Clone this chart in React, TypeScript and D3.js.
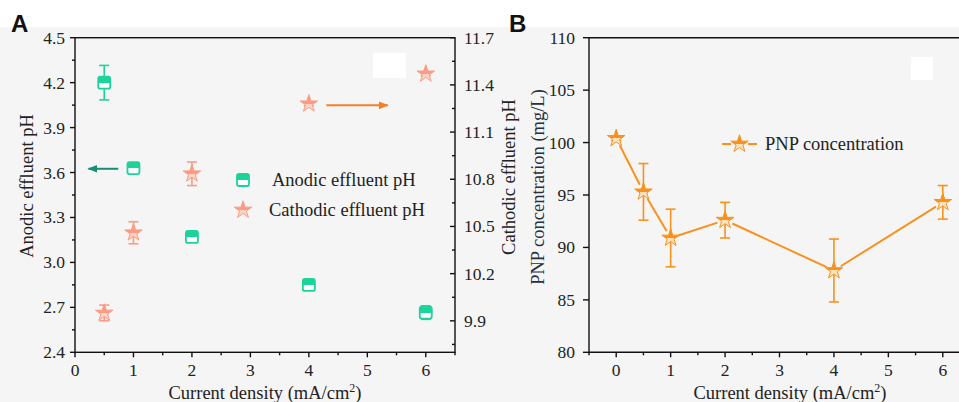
import React from "react";
import * as d3 from "d3";

// ---------- Data ----------
const densityA = [0.5, 1, 2, 4, 6];
const anodicPH = [4.2, 3.63, 3.17, 2.85, 2.665];
const anodicErr = [0.115, 0.03, 0.025, 0.02, 0.045];
const cathodicPH = [9.95, 10.46, 10.835, 11.28, 11.47];
const cathodicErr = [0.05, 0.07, 0.075, 0.012, 0.012];

const densityB = [0, 0.5, 1, 2, 4, 6];
const pnpConc = [100.4, 95.3, 90.9, 92.6, 87.8, 94.3];
const pnpErr = [0.2, 2.7, 2.75, 1.7, 3.0, 1.6];

const xTicks = [0, 1, 2, 3, 4, 5, 6];
const leftTicks = [2.4, 2.7, 3.0, 3.3, 3.6, 3.9, 4.2, 4.5];
const rightTicks = [9.9, 10.2, 10.5, 10.8, 11.1, 11.4, 11.7];
const pnpTicks = [80, 85, 90, 95, 100, 105, 110];

const GREEN = "#1CD39B";
const GREEN_DARK = "#178D73";
const SALMON = "#FA9C84";
const ORANGE = "#F8921E";
const ORANGE_ARROW = "#F47F26";
const FONT = "'Liberation Serif', 'Times New Roman', serif";

const W = 959;
const H = 402;
const TOP = 37.7;
const BOT = 352.3;

export default function App() {
  // Panel A scales
  const xA = d3.scaleLinear().domain([0, 6.5]).range([75, 455]);
  const yL = d3.scaleLinear().domain([2.4, 4.5]).range([BOT, TOP]);
  const yR = d3.scaleLinear().domain([9.7, 11.7]).range([BOT, TOP]);
  // Panel B scales
  const xB = d3.scaleLinear().domain([-0.5, 6.5]).range([589, 970]);
  const yB = d3.scaleLinear().domain([80, 110]).range([BOT, TOP]);

  const star = d3.symbol().type(d3.symbolStar).size(95)()!;
  const starSmall = d3.symbol().type(d3.symbolStar).size(95)()!;

  const minorX = d3.range(0.5, 6.6, 1);
  const minorL = leftTicks.slice(0, -1).map((t) => t + 0.15);
  const minorR = [9.75, ...rightTicks.slice(0, -1).map((t) => t + 0.15)];
  const minorXB = [-0.5, ...d3.range(0.5, 6.6, 1)];

  const ax = { stroke: "#111", strokeWidth: 1.4, fill: "none" } as const;
  const tickText = { fontFamily: FONT, fontSize: 17.5, fill: "#222" } as const;
  const labelText = { fontFamily: FONT, fontSize: 18.5, fill: "#222" } as const;

  const errBar = (x: number, y1: number, y2: number, color: string, key: string, w = 5) => (
    <g key={key} stroke={color} strokeWidth={1.6} fill="none">
      <line x1={x} x2={x} y1={y1} y2={y2} />
      <line x1={x - w} x2={x + w} y1={y1} y2={y1} />
      <line x1={x - w} x2={x + w} y1={y2} y2={y2} />
    </g>
  );

  const square = (x: number, y: number, key: string) => (
    <g key={key}>
      <rect x={x - 6} y={y - 6} width={12} height={12} rx={2} fill="url(#gGreen)" stroke={GREEN} strokeWidth={1.8} />
    </g>
  );

  // PNP line segments with gaps at markers
  const pnpPts = densityB.map((d, i) => [xB(d), yB(pnpConc[i])] as [number, number]);
  const gap = 8;
  const segs = pnpPts.slice(0, -1).map((p, i) => {
    const q = pnpPts[i + 1];
    const dx = q[0] - p[0];
    const dy = q[1] - p[1];
    const L = Math.hypot(dx, dy);
    const ux = dx / L;
    const uy = dy / L;
    return [p[0] + ux * gap, p[1] + uy * gap, q[0] - ux * gap, q[1] - uy * gap];
  });

  return (
    <svg width={W} height={H} style={{ position: "absolute", left: 0, top: 0, background: "#fff" }}>
      <defs>
        <linearGradient id="gGreen" x1="0" y1="0" x2="0" y2="1">
          <stop offset="0.5" stopColor={GREEN} />
          <stop offset="0.5" stopColor="#fff" />
        </linearGradient>
        <linearGradient id="gSalmon" x1="0" y1="0" x2="0" y2="1">
          <stop offset="0.55" stopColor={SALMON} />
          <stop offset="0.55" stopColor="#FCD3C6" />
        </linearGradient>
        <linearGradient id="gOrange" x1="0" y1="0" x2="0" y2="1">
          <stop offset="0.55" stopColor={ORANGE} />
          <stop offset="0.55" stopColor="#FDE2BF" />
        </linearGradient>
        <marker id="arrG" viewBox="0 0 10 10" refX="9" refY="5" markerWidth="5" markerHeight="5" orient="auto">
          <path d="M0,1 L10,5 L0,9 Z" fill={GREEN_DARK} />
        </marker>
        <marker id="arrO" viewBox="0 0 10 10" refX="9" refY="5" markerWidth="5" markerHeight="5" orient="auto">
          <path d="M0,1 L10,5 L0,9 Z" fill={ORANGE_ARROW} />
        </marker>
      </defs>

      {/* background */}
      <rect x={0} y={27} width={W} height={H - 27} fill="#f5f5f5" />
      <rect x={373} y={53} width={33} height={25} fill="#fff" />
      <rect x={911} y={57} width={22} height={23} fill="#fff" />

      {/* Panel letters */}
      <text x={11} y={32} fontFamily="'Liberation Sans', Arial, sans-serif" fontWeight="bold" fontSize={24} fill="#111">A</text>
      <text x={509} y={32} fontFamily="'Liberation Sans', Arial, sans-serif" fontWeight="bold" fontSize={24} fill="#111">B</text>

      {/* ===== Panel A ===== */}
      <rect x={75} y={TOP} width={380} height={BOT - TOP} {...ax} />
      {xTicks.map((t) => (
        <g key={"xa" + t}>
          <line x1={xA(t)} x2={xA(t)} y1={BOT} y2={BOT + 5} {...ax} />
          <text x={xA(t)} y={BOT + 24} textAnchor="middle" {...tickText}>{t}</text>
        </g>
      ))}
      {minorX.map((t) => (
        <line key={"xam" + t} x1={xA(t)} x2={xA(t)} y1={BOT} y2={BOT + 3} {...ax} />
      ))}
      {leftTicks.map((t) => (
        <g key={"yl" + t}>
          <line x1={70} x2={75} y1={yL(t)} y2={yL(t)} {...ax} />
          <text x={65} y={yL(t) + 6} textAnchor="end" {...tickText}>{t.toFixed(1)}</text>
        </g>
      ))}
      {minorL.map((t) => (
        <line key={"ylm" + t} x1={72} x2={75} y1={yL(t)} y2={yL(t)} {...ax} />
      ))}
      {rightTicks.map((t) => (
        <g key={"yr" + t}>
          <line x1={450} x2={455} y1={yR(t)} y2={yR(t)} {...ax} />
          <text x={464} y={yR(t) + 6} textAnchor="start" {...tickText}>{t.toFixed(1)}</text>
        </g>
      ))}
      {minorR.map((t) => (
        <line key={"yrm" + t} x1={452} x2={455} y1={yR(t)} y2={yR(t)} {...ax} />
      ))}
      <text transform={`translate(33,${186}) rotate(-90)`} textAnchor="middle" {...labelText}>Anodic effluent pH</text>
      <text transform={`translate(515,${177}) rotate(-90)`} textAnchor="middle" {...labelText}>Cathodic effluent pH</text>
      <text x={265} y={399} textAnchor="middle" {...labelText}>
        Current density (mA/cm<tspan dy={-7} fontSize={12}>2</tspan><tspan dy={7}>)</tspan>
      </text>

      {/* cathodic */}
      {densityA.map((d, i) =>
        errBar(xA(d), yR(cathodicPH[i] + cathodicErr[i]), yR(cathodicPH[i] - cathodicErr[i]), SALMON, "ce" + i)
      )}
      {densityA.map((d, i) => (
        <path key={"cs" + i} d={star} transform={`translate(${xA(d)},${yR(cathodicPH[i])})`} fill="url(#gSalmon)" stroke={SALMON} strokeWidth={1} />
      ))}
      {/* anodic */}
      {densityA.map((d, i) =>
        errBar(xA(d), yL(anodicPH[i] + anodicErr[i]), yL(anodicPH[i] - anodicErr[i]), GREEN, "ae" + i)
      )}
      {densityA.map((d, i) => square(xA(d), yL(anodicPH[i]), "as" + i))}

      {/* arrows */}
      <line x1={xA(0.74)} x2={xA(0.23)} y1={yL(3.625)} y2={yL(3.625)} stroke={GREEN_DARK} strokeWidth={2} markerEnd="url(#arrG)" />
      <line x1={xA(4.3)} x2={xA(5.35)} y1={yR(11.27)} y2={yR(11.27)} stroke={ORANGE_ARROW} strokeWidth={2} markerEnd="url(#arrO)" />

      {/* legend A */}
      {square(243, 180, "lg1")}
      <text x={272} y={186} {...labelText}>Anodic effluent pH</text>
      <path d={starSmall} transform="translate(243,210)" fill="url(#gSalmon)" stroke={SALMON} strokeWidth={1} />
      <text x={269} y={216} {...labelText}>Cathodic effluent pH</text>

      {/* ===== Panel B ===== */}
      <line x1={589} x2={W} y1={TOP} y2={TOP} {...ax} />
      <line x1={589} x2={W} y1={BOT} y2={BOT} {...ax} />
      <line x1={589} x2={589} y1={TOP} y2={BOT} {...ax} />
      {xTicks.map((t) => (
        <g key={"xb" + t}>
          <line x1={xB(t)} x2={xB(t)} y1={BOT} y2={BOT + 5} {...ax} />
          <text x={xB(t)} y={BOT + 24} textAnchor="middle" {...tickText}>{t}</text>
        </g>
      ))}
      {minorXB.map((t) => (
        <line key={"xbm" + t} x1={xB(t)} x2={xB(t)} y1={BOT} y2={BOT + 3} {...ax} />
      ))}
      {pnpTicks.map((t) => (
        <g key={"yb" + t}>
          <line x1={583} x2={589} y1={yB(t)} y2={yB(t)} {...ax} />
          <text x={575} y={yB(t) + 6} textAnchor="end" {...tickText}>{t}</text>
        </g>
      ))}
      <text transform={`translate(544,${187}) rotate(-90)`} textAnchor="middle" {...labelText} fill="#263040">PNP concentration (mg/L)</text>
      <text x={790} y={399} textAnchor="middle" {...labelText}>
        Current density (mA/cm<tspan dy={-7} fontSize={12}>2</tspan><tspan dy={7}>)</tspan>
      </text>

      {segs.map((s, i) => (
        <line key={"seg" + i} x1={s[0]} y1={s[1]} x2={s[2]} y2={s[3]} stroke={ORANGE} strokeWidth={2} />
      ))}
      {densityB.map((d, i) =>
        errBar(xB(d), yB(pnpConc[i] + pnpErr[i]), yB(pnpConc[i] - pnpErr[i]), ORANGE, "pe" + i)
      )}
      {densityB.map((d, i) => (
        <path key={"ps" + i} d={star} transform={`translate(${xB(d)},${yB(pnpConc[i])})`} fill="url(#gOrange)" stroke={ORANGE} strokeWidth={1} />
      ))}

      {/* legend B */}
      <line x1={722} x2={731} y1={144} y2={144} stroke={ORANGE} strokeWidth={2} />
      <line x1={748} x2={757} y1={144} y2={144} stroke={ORANGE} strokeWidth={2} />
      <path d={starSmall} transform="translate(739.5,144)" fill="url(#gOrange)" stroke={ORANGE} strokeWidth={1} />
      <text x={765} y={150} {...labelText}>PNP concentration</text>
    </svg>
  );
}
